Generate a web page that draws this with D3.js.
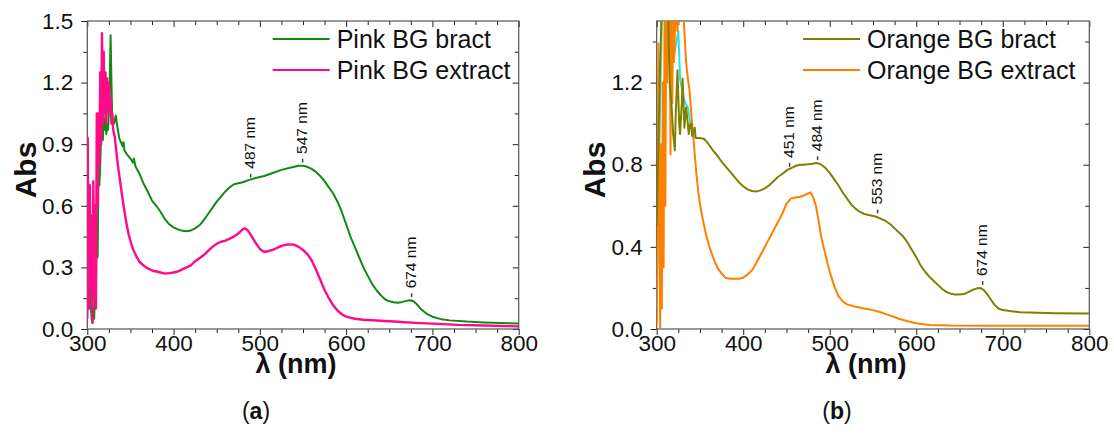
<!DOCTYPE html>
<html><head><meta charset="utf-8">
<script src="https://cdn.jsdelivr.net/npm/d3@7"></script>
<style>
html,body{margin:0;padding:0;background:#fff;}
text{font-family:"Liberation Sans",Arial,sans-serif;}
</style></head>
<body><svg id="c" width="1114" height="439"></svg>
<script>
// ---------- DATA ----------
const xTicks = [300, 400, 500, 600, 700, 800];
const yTicksA = [0.0, 0.3, 0.6, 0.9, 1.2, 1.5];
const yTicksB = [0.0, 0.4, 0.8, 1.2];

const pinkBract = [[300,0.22],[302,0.3],[304,0.12],[305,0.05],[306,0.03],[307,0.1],[308,0.05],[309,0.2],[310,0.19],[311,0.5],[312,0.35],[313,0.75],[314,0.7],[315,0.8],[316,0.95],[317,1.0],[318,0.92],[319,1.02],[320,0.97],[321,1.05],[322,0.95],[323,1.0],[324,0.97],[325,1.05],[326,1.2],[327,1.43],[328,1.2],[329,1.0],[331,1.0],[333,1.04],[335,0.98],[337,0.93],[339,0.91],[341,0.89],[342,0.91],[343,0.87],[346,0.85],[350,0.83],[353,0.81],[354,0.83],[355,0.81],[356,0.79],[360,0.76],[365,0.71],[370,0.67],[375,0.625],[380,0.6],[385,0.57],[390,0.535],[395,0.51],[400,0.495],[405,0.485],[410,0.478],[415,0.476],[420,0.48],[425,0.49],[430,0.505],[435,0.53],[440,0.56],[445,0.59],[450,0.62],[455,0.645],[460,0.67],[465,0.69],[470,0.705],[475,0.71],[480,0.715],[487,0.725],[495,0.735],[505,0.745],[515,0.76],[525,0.775],[535,0.785],[545,0.795],[550,0.795],[555,0.79],[560,0.78],[565,0.765],[570,0.745],[575,0.72],[580,0.69],[585,0.66],[590,0.62],[595,0.57],[600,0.51],[605,0.45],[610,0.4],[615,0.35],[620,0.3],[625,0.26],[630,0.22],[635,0.19],[640,0.165],[645,0.145],[650,0.135],[655,0.13],[660,0.128],[665,0.132],[670,0.137],[674,0.14],[678,0.135],[682,0.12],[686,0.1],[690,0.085],[695,0.07],[700,0.06],[710,0.048],[720,0.042],[740,0.036],[760,0.032],[780,0.029],[800,0.027]];

const pinkExtract = [[300,0.05],[300.5,0.93],[301,0.5],[302,0.1],[303,0.7],[304,0.2],[305,0.55],[306,0.03],[307,0.72],[308,0.15],[309,0.6],[310,0.1],[311,1.05],[312,0.6],[313,1.05],[314,0.8],[315,1.25],[316,0.9],[317,1.44],[318,1.0],[319,1.35],[320,1.05],[321,1.25],[322,1.0],[323,1.22],[324,1.05],[325,1.2],[326,1.1],[327,1.12],[328,1.0],[329,1.05],[330,0.97],[332,0.93],[334,0.85],[336,0.78],[338,0.72],[340,0.66],[342,0.6],[344,0.55],[346,0.5],[348,0.46],[350,0.43],[352,0.4],[355,0.37],[358,0.345],[361,0.325],[365,0.31],[370,0.295],[375,0.285],[380,0.28],[385,0.275],[390,0.27],[395,0.272],[400,0.275],[405,0.28],[410,0.29],[415,0.3],[420,0.31],[425,0.33],[430,0.345],[435,0.36],[440,0.38],[445,0.4],[450,0.415],[455,0.425],[460,0.43],[465,0.44],[470,0.45],[475,0.465],[480,0.485],[483,0.49],[486,0.48],[490,0.455],[495,0.42],[500,0.39],[505,0.375],[510,0.38],[515,0.385],[520,0.395],[525,0.405],[530,0.41],[535,0.412],[540,0.41],[545,0.4],[550,0.385],[555,0.365],[560,0.335],[565,0.29],[570,0.24],[575,0.19],[580,0.15],[585,0.115],[590,0.09],[595,0.072],[600,0.06],[610,0.05],[620,0.045],[640,0.04],[660,0.035],[680,0.03],[700,0.026],[730,0.02],[760,0.017],[800,0.013]];

const orangeBract = [[300,0.5],[302,0.9],[304,1.3],[306,1.6],[308,1.7],[310,1.6],[312,1.55],[313,1.6],[315,1.19],[317,1.1],[319,0.95],[321,0.87],[322,1.05],[324,1.26],[326,1.0],[327,0.95],[329,1.1],[330,1.22],[332,0.98],[334,1.08],[336,1.0],[337,0.95],[339,1.0],[340,1.0],[341,0.94],[343,0.97],[344,0.98],[345,0.93],[350,0.93],[355,0.925],[360,0.9],[365,0.87],[370,0.845],[375,0.815],[380,0.79],[385,0.765],[390,0.74],[395,0.715],[400,0.695],[405,0.68],[410,0.672],[415,0.67],[420,0.675],[425,0.685],[430,0.7],[435,0.72],[440,0.74],[445,0.755],[451,0.775],[456,0.785],[461,0.795],[466,0.8],[470,0.8],[475,0.802],[480,0.805],[484,0.808],[488,0.805],[492,0.795],[496,0.78],[500,0.76],[505,0.73],[510,0.7],[515,0.665],[520,0.635],[525,0.605],[530,0.585],[535,0.57],[540,0.56],[545,0.555],[553,0.548],[560,0.535],[565,0.525],[570,0.51],[575,0.49],[580,0.47],[585,0.45],[590,0.42],[595,0.385],[600,0.35],[605,0.31],[610,0.28],[615,0.255],[620,0.235],[625,0.215],[630,0.195],[635,0.18],[640,0.172],[645,0.168],[650,0.168],[655,0.17],[660,0.18],[665,0.19],[670,0.198],[674,0.2],[678,0.19],[682,0.17],[686,0.145],[690,0.12],[695,0.1],[700,0.092],[710,0.086],[720,0.082],[740,0.079],[760,0.077],[800,0.076]];

const orangeExtract = [[300,0.02],[301,0.6],[302,1.39],[303,0.5],[304,0.0],[305,0.9],[306,0.1],[307,1.2],[308,0.3],[309,1.5],[310,0.6],[311,1.6],[312,1.2],[313,1.6],[314,1.3],[315,1.6],[316,0.85],[317,1.6],[318,1.1],[319,1.6],[320,1.3],[322,1.6],[324,1.45],[326,1.6],[328,1.5],[330,1.6],[332,1.45],[334,1.3],[336,1.22],[338,1.16],[340,1.05],[342,0.95],[344,0.85],[346,0.75],[348,0.67],[350,0.61],[353,0.54],[357,0.46],[361,0.4],[365,0.35],[370,0.3],[375,0.27],[380,0.248],[385,0.245],[390,0.245],[395,0.245],[400,0.25],[405,0.265],[410,0.285],[415,0.32],[420,0.36],[425,0.4],[430,0.44],[435,0.48],[440,0.52],[445,0.56],[450,0.61],[455,0.635],[460,0.64],[465,0.643],[470,0.65],[475,0.66],[478,0.665],[481,0.64],[484,0.6],[487,0.53],[490,0.45],[494,0.38],[498,0.31],[502,0.25],[506,0.2],[510,0.16],[515,0.135],[520,0.12],[530,0.108],[540,0.1],[550,0.092],[560,0.08],[570,0.065],[580,0.05],[590,0.038],[600,0.028],[615,0.02],[640,0.017],[680,0.016],[720,0.016],[800,0.016]];

const orangeCyan = [[300,0.1],[302,0.6],[304,1.1],[306,1.5],[308,1.7],[312,1.6],[316,1.4],[319,1.3],[322,1.38],[325,1.45],[327,1.22],[330,1.15],[333,1.1],[336,1.08],[339,1.0],[342,0.96],[345,0.93]];

const peaksA = [[487,0.725,"- 487 nm"],[547,0.797,"- 547 nm"],[674,0.142,"- 674 nm"]];
const peaksB = [[451,0.777,"- 451 nm"],[484,0.81,"- 484 nm"],[553,0.55,"- 553 nm"],[674,0.202,"- 674 nm"]];

// ---------- DRAW ----------
const svg = d3.select("#c");
const plotTop = 21, plotBottom = 329;

function panel(opt){
  const g = svg.append("g");
  const x = d3.scaleLinear().domain([300,800]).range([opt.x0, opt.x1]);
  const y = d3.scaleLinear().domain([0,1.5]).range([plotBottom, plotTop]);
  const clipId = "clip"+opt.id;
  svg.append("defs").append("clipPath").attr("id",clipId)
    .append("rect").attr("x",opt.x0).attr("y",plotTop).attr("width",opt.x1-opt.x0).attr("height",plotBottom-plotTop);

  const minorX = d3.range(300,801,25).filter(v=>v%100!==0);
  const minorY = opt.minorY;

  g.append("g").attr("transform",`translate(0,${plotBottom})`)
    .call(d3.axisBottom(x).tickValues(xTicks).tickFormat(d3.format("d")).tickSize(6).tickPadding(0));
  g.append("g").attr("transform",`translate(0,${plotBottom})`)
    .call(d3.axisBottom(x).tickValues(minorX).tickFormat("").tickSize(4));
  g.append("g").attr("transform",`translate(0,${plotTop})`)
    .call(d3.axisBottom(x).tickValues(xTicks).tickFormat("").tickSize(6));
  g.append("g").attr("transform",`translate(0,${plotTop})`)
    .call(d3.axisBottom(x).tickValues(minorX).tickFormat("").tickSize(4));
  g.append("g").attr("transform",`translate(${opt.x0},0)`)
    .call(d3.axisLeft(y).tickValues(opt.yTicks).tickFormat(d3.format(".1f")).tickSize(6).tickPadding(8));
  g.append("g").attr("transform",`translate(${opt.x0},0)`)
    .call(d3.axisLeft(y).tickValues(minorY).tickFormat("").tickSize(4));
  g.append("g").attr("transform",`translate(${opt.x1},0)`)
    .call(d3.axisLeft(y).tickValues(opt.yTicks.filter(v=>v<1.5)).tickFormat("").tickSize(6));
  g.append("g").attr("transform",`translate(${opt.x1},0)`)
    .call(d3.axisLeft(y).tickValues(minorY).tickFormat("").tickSize(4));

  g.selectAll(".domain").remove();
  g.selectAll(".tick line").attr("stroke","#222").attr("stroke-width",1);
  g.selectAll(".tick text").attr("font-size","22.5px").attr("fill","#111")
    .attr("font-family","'Liberation Sans',Arial,sans-serif");

  g.append("rect").attr("x",opt.x0).attr("y",plotTop).attr("width",opt.x1-opt.x0).attr("height",plotBottom-plotTop)
    .attr("fill","none").attr("stroke","#555").attr("stroke-width",1.2);

  const line = d3.line().x(d=>x(d[0])).y(d=>y(d[1]));
  const lg = g.append("g").attr("clip-path",`url(#${clipId})`);
  opt.series.forEach(s=>{
    lg.append("path").datum(s.data).attr("d",line).attr("fill","none")
      .attr("stroke",s.color).attr("stroke-width",s.w||2).attr("stroke-linejoin","round");
  });

  opt.peaks.forEach(p=>{
    g.append("text").attr("transform",`translate(${x(p[0])+1},${y(p[1])-2}) rotate(-90)`)
      .attr("text-anchor","start").attr("dominant-baseline","central")
      .attr("font-size","15.5px").attr("fill","#111").text(p[2]);
  });

  opt.legend.forEach((l,i)=>{
    const yy = 39 + i*31;
    g.append("line").attr("x1",opt.legX).attr("x2",opt.legX+57).attr("y1",yy).attr("y2",yy)
      .attr("stroke",l.color).attr("stroke-width",2);
    g.append("text").attr("x",opt.legX+64).attr("y",yy).attr("dominant-baseline","central")
      .attr("font-size","25px").attr("fill","#111").text(l.name);
  });

  g.append("text").attr("transform",`translate(${opt.x0-62},170) rotate(-90)`)
    .attr("text-anchor","middle").attr("dominant-baseline","central")
    .attr("font-size","30px").attr("font-weight","bold").attr("fill","#111").text("Abs");
  g.append("text").attr("x",(opt.x0+opt.x1)/2-7).attr("y",373)
    .attr("text-anchor","middle").attr("font-size","27px").attr("font-weight","bold").attr("fill","#111")
    .text("λ (nm)");
  const cap = g.append("text").attr("x",opt.capX).attr("y",419).attr("text-anchor","middle")
    .attr("font-family","'Liberation Serif','DejaVu Serif',serif").attr("font-size","23px").attr("fill","#111");
  cap.append("tspan").text("(");
  cap.append("tspan").attr("font-weight","bold").text(opt.cap);
  cap.append("tspan").text(")");
}

panel({id:"a", x0:87.3, x1:518.7, yTicks:yTicksA, minorY:[0.15,0.45,0.75,1.05,1.35],
  series:[{data:pinkBract,color:"#108a10"},{data:pinkExtract,color:"#ff0a88",w:2.4}],
  peaks:peaksA, legX:272.7,
  legend:[{name:"Pink BG bract",color:"#108a10"},{name:"Pink BG extract",color:"#ff0a88"}],
  cap:"a", capX:256});

panel({id:"b", x0:656.7, x1:1089.3, yTicks:yTicksB, minorY:[0.2,0.6,1.0,1.4],
  series:[{data:orangeCyan,color:"#2fe0e0"},{data:orangeExtract,color:"#ff8000"},{data:orangeBract,color:"#808000"}],
  peaks:peaksB, legX:803,
  legend:[{name:"Orange BG bract",color:"#808000"},{name:"Orange BG extract",color:"#ff8000"}],
  cap:"b", capX:837});
</script></body></html>
